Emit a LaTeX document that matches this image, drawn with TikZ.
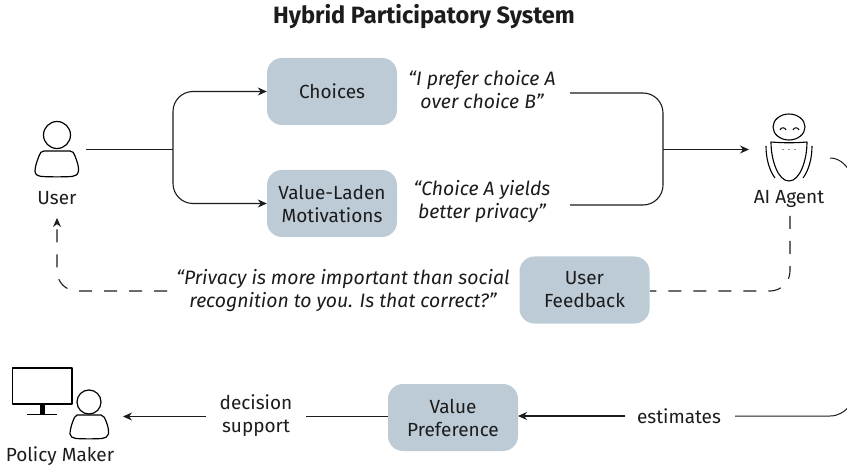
\documentclass[tikz,border=0pt]{standalone}
\usepackage{fontspec}
\setmainfont{Fira Sans}
\usetikzlibrary{arrows.meta}
\definecolor{boxfill}{HTML}{BCCBD6}
\definecolor{ink}{HTML}{1C1C1C}
\tikzset{
  x=1pt,y=-1pt,
  box/.style={draw=none,fill=boxfill,rounded corners=15pt,minimum width=130pt,minimum height=67pt,align=center,inner sep=0pt,font=\fontsize{19}{23}\selectfont,text=ink},
  lbl/.style={align=center,inner sep=0pt,font=\fontsize{19}{23}\selectfont,text=ink},
  quote/.style={align=center,inner sep=0pt,font=\fontsize{19.4}{23}\selectfont\itshape,text=ink},
  conn/.style={draw=ink,line width=1.1pt,rounded corners=20pt},
  arrowed/.style={-{Stealth[length=9pt,width=8pt]}},
  dashline/.style={conn,dash pattern=on 13pt off 12pt},
  icon/.style={draw=black,line width=1.2pt,line join=round}
}
\begin{document}
\begin{tikzpicture}
\useasboundingbox (0,0) rectangle (847,468);
\clip (0,0) rectangle (847,468);

\node[lbl,font=\fontsize{23.6}{26}\selectfont\bfseries] (title) at (424,17) {Hybrid Participatory System};

\node[box] (choices) at (332,91.5) {Choices};
\node[box] (motiv) at (332,203.5) {Value-Laden\\Motivations};
\node[box] (feedback) at (584.5,290) {User\\Feedback};
\node[box] (pref) at (453,417.5) {Value\\Preference};

\node[quote] (q1) at (482,90) {“I prefer choice A\\over choice B”};
\node[quote] (q2) at (482,202) {“Choice A yields\\better privacy”};
\node[quote] (q3) at (343,291) {“Privacy is more important than social\\recognition to you. Is that correct?”};

\node[lbl] (userlbl) at (57,198) {User};
\node[lbl] (agentlbl) at (789,199) {AI Agent};
\node[lbl] (pmlbl) at (60,456) {Policy Maker};
\node[lbl] (dec) at (256,416) {decision\\support};
\node[lbl] (est) at (679,416) {estimates};

% free ends and junctions
\coordinate (userout) at (86,149.5);
\coordinate (ujoin) at (173,149.5);
\coordinate (ajoin) at (663,149.5);
\coordinate (agentin) at (749,149.5);
\coordinate (q1out) at (570,93);
\coordinate (q2out) at (570,205);
\coordinate (agentdash) at (790,216);
\coordinate (userin) at (57,218);
\coordinate (q3out) at (167,291);
\coordinate (fbout) at (650,291);
\coordinate (agentside) at (830,158);
\coordinate (estin) at (830,416);
\coordinate (estright) at (735,416);
\coordinate (estleft) at (625,416);
\coordinate (decleft) at (206,416.5);
\coordinate (decright) at (306,416.5);
\coordinate (pmin) at (123,416.5);
\coordinate (prefin) at (518,416);
\coordinate (prefout) at (388,416.5);

% solid connectors
\draw[conn] (userout) -- (ujoin);
\draw[conn,arrowed] (ujoin) |- (choices.west);
\draw[conn,arrowed] (ujoin) |- (motiv.west);
\draw[conn] (q1out) -| (ajoin);
\draw[conn] (q2out) -| (ajoin);
\draw[conn,arrowed] (ajoin) -- (agentin);

% dashed feedback
\draw[dashline] (agentdash) |- (fbout);
\draw[dashline,arrowed] (q3out) -| (userin);

% AI agent to value preference (runs off the page on the right)
\draw[draw=ink,line width=1pt] (agentside) .. controls (838,158) and (845,163) .. (850,172);
\draw[draw=ink,line width=1pt] (850,405) .. controls (845,412) and (838,416) .. (estin) -- (estright);
\draw[conn,arrowed] (estleft) -- (prefin);
\draw[conn,arrowed] (decleft) -- (pmin);
\draw[conn] (decright) -- (prefout);

% user icon
\draw[icon] (57,135) circle (13.5);
\draw[icon] (44,151) -- (70,151) .. controls (73,151) and (74,153) .. (75,156) .. controls (77,161) and (79,167) .. (78.5,171) .. controls (78,175) and (75,176) .. (72,176.5) .. controls (62,177) and (52,177) .. (42,176.5) .. controls (38,176) and (35,175) .. (35,171) .. controls (35,167) and (37,161) .. (39,156) .. controls (40,153) and (41,151) .. (44,151) -- cycle;

% robot icon
\draw[icon,line width=1.1pt] (789,127) ellipse (16 and 13);
\draw[icon,line width=1pt] (780,130) .. controls (781,127) and (785,127) .. (786,130);
\draw[icon,line width=1pt] (793,130) .. controls (794,127) and (798,127) .. (799,130);
\draw[icon,line width=1.1pt] (771,142) .. controls (782,143) and (796,143) .. (807,142) .. controls (807,160) and (800,181) .. (789,181) .. controls (778,181) and (771,160) .. (771,142) -- cycle;
\draw[icon,line width=1.1pt] (766,146) .. controls (766,158) and (769,170) .. (775,178);
\draw[icon,line width=1.1pt] (812,146) .. controls (812,158) and (809,170) .. (803,178);
\foreach \dx in {-6,0,6}{\fill[ink] (789+\dx,149.5) circle (0.6);}

% policy maker icon
\draw[icon,line width=1.5pt] (12.5,368) rectangle (72,404);
\fill[black] (39.5,404) rectangle (44.5,414);
\draw[black,line width=1.5pt] (27,414.5) -- (57,414.5);
\draw[icon] (89,402) circle (12);
\draw[icon] (77,415) -- (101,415) .. controls (104,416) and (105,418) .. (106,421) .. controls (108,426) and (109,431) .. (108.5,434) .. controls (108,437) and (105,438) .. (102,438.5) .. controls (94,439) and (84,439) .. (76,438.5) .. controls (73,438) and (70,437) .. (70,434) .. controls (70,431) and (71,426) .. (73,421) .. controls (74,418) and (75,416) .. (77,415) -- cycle;
\end{tikzpicture}
\end{document}
